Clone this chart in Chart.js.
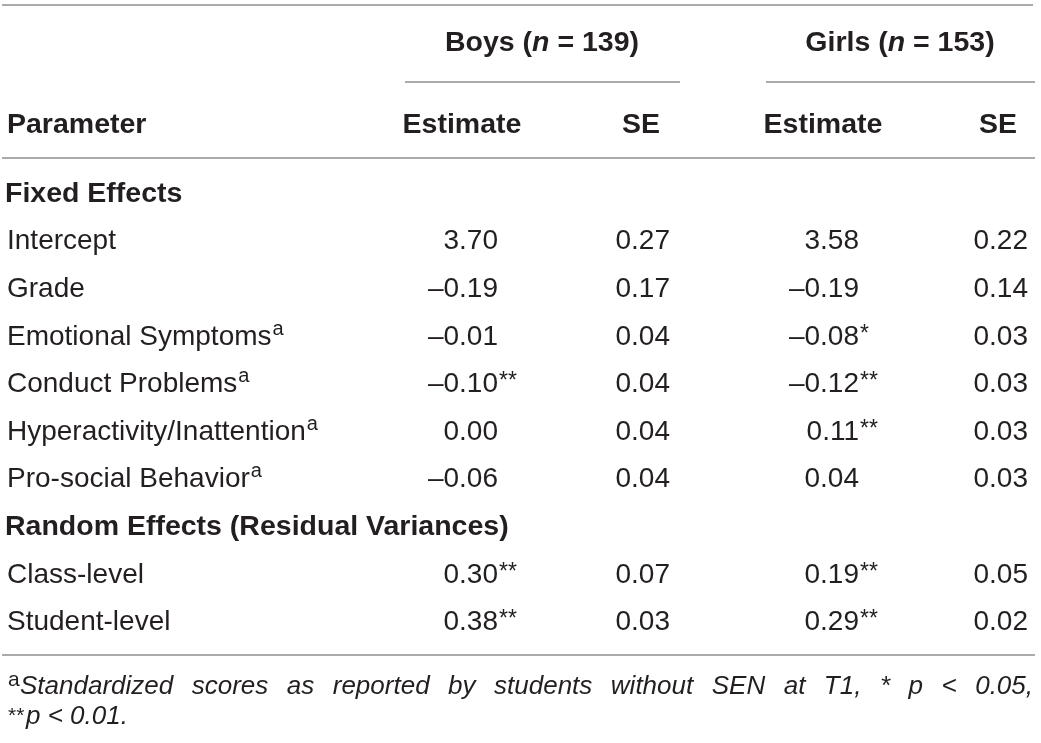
<!DOCTYPE html>
<html>
<head>
<meta charset="utf-8">
<script src="https://cdn.jsdelivr.net/npm/chart.js@4/dist/chart.umd.min.js"></script>
<style>
  body { margin: 0; background: #fff; }
  #wrap { width: 1041px; height: 743px; }
</style>
</head>
<body>
<div id="wrap"><canvas id="tbl" width="1041" height="743"></canvas></div>
<script>
// table rows (top to bottom)
const rowOrder = ['Fixed Effects', 'Intercept', 'Grade', 'Emotional Symptoms', 'Conduct Problems',
  'Hyperactivity/Inattention', 'Pro-social Behavior', 'Random Effects (Residual Variances)',
  'Class-level', 'Student-level'];
const sections = ['Fixed Effects', 'Random Effects (Residual Variances)'];
const paramNames = ['Intercept', 'Grade', 'Emotional Symptoms', 'Conduct Problems',
  'Hyperactivity/Inattention', 'Pro-social Behavior', 'Class-level', 'Student-level'];
const noteA = ['Emotional Symptoms', 'Conduct Problems', 'Hyperactivity/Inattention', 'Pro-social Behavior'];

const boysEst = [3.70, -0.19, -0.01, -0.10, 0.00, -0.06, 0.30, 0.38];
const boysEstSig = ['', '', '', '**', '', '', '**', '**'];
const boysSE = [0.27, 0.17, 0.04, 0.04, 0.04, 0.04, 0.07, 0.03];
const girlsEst = [3.58, -0.19, -0.08, -0.12, 0.11, 0.04, 0.19, 0.29];
const girlsEstSig = ['', '', '*', '**', '**', '', '**', '**'];
const girlsSE = [0.22, 0.14, 0.03, 0.03, 0.03, 0.03, 0.05, 0.02];

const groups = [{name: 'Boys', n: 139}, {name: 'Girls', n: 153}];
const footnote1 = 'Standardized scores as reported by students without SEN at T1, * p < 0.05,';
const footnote2 = 'p < 0.01.';

// layout (x in page units, 0..1041)
const FONT = '"Liberation Sans", Arial, sans-serif';
const INK = '#231f20';
const RULE = '#8f8f8f';
const colX = {section: 5, param: 7, bEst: 498, bSE: 670, gEst: 859, gSE: 1028};
const headX = {bEst: 462, bSE: 641, gEst: 823, gSE: 998, boys: 542, girls: 900};
const groupLines = [[405, 680], [766, 1035]];
const REG = '28px ' + FONT;
const BOLD = 'bold 28.5px ' + FONT;

function fmt(v) {
  return (v < 0 ? '\u2013' : '') + Math.abs(v).toFixed(2);
}

function cellSet(x, vals, sig, kind) {
  return {
    data: paramNames.map((p, i) => ({x: x, y: p})),
    texts: vals.map(fmt), sig: sig, kind: kind,
    pointRadius: 0, showLine: false
  };
}

const datasets = [
  {data: sections.map(s => ({x: colX.section, y: s})), texts: sections, kind: 'section', pointRadius: 0},
  {data: paramNames.map(p => ({x: colX.param, y: p})), texts: paramNames, kind: 'label', pointRadius: 0},
  cellSet(colX.bEst, boysEst, boysEstSig, 'num'),
  cellSet(colX.bSE, boysSE, null, 'num'),
  cellSet(colX.gEst, girlsEst, girlsEstSig, 'num'),
  cellSet(colX.gSE, girlsSE, null, 'num')
];

function hline(ctx, x0, x1, y) {
  ctx.save();
  ctx.strokeStyle = RULE;
  ctx.lineWidth = 1.5;
  ctx.beginPath();
  ctx.moveTo(x0, y);
  ctx.lineTo(x1, y);
  ctx.stroke();
  ctx.restore();
}

// draws the text segments [text, font] centred at cx
function centredRuns(ctx, runs, cx, y) {
  let w = 0;
  runs.forEach(r => { ctx.font = r[1]; w += ctx.measureText(r[0]).width; });
  let x = cx - w / 2;
  ctx.textAlign = 'left';
  runs.forEach(r => { ctx.font = r[1]; ctx.fillText(r[0], x, y); x += ctx.measureText(r[0]).width; });
}

const tablePlugin = {
  id: 'tablePlugin',
  afterDatasetsDraw(chart) {
    const ctx = chart.ctx;
    const xs = chart.scales.x;
    const area = chart.chartArea;
    const px = v => xs.getPixelForValue(v);
    const lift = 10;
    ctx.save();
    ctx.fillStyle = INK;
    ctx.textBaseline = 'alphabetic';

    // body cells
    chart.data.datasets.forEach((ds, di) => {
      const meta = chart.getDatasetMeta(di);
      meta.data.forEach((pt, i) => {
        const t = ds.texts[i];
        const y = pt.y + lift;
        if (ds.kind === 'section') {
          ctx.font = BOLD;
          ctx.textAlign = 'left';
          ctx.fillText(t, pt.x, y);
        } else if (ds.kind === 'label') {
          ctx.font = REG;
          ctx.textAlign = 'left';
          ctx.fillText(t, pt.x, y);
          if (noteA.includes(t)) {
            const w = ctx.measureText(t).width;
            ctx.font = '20px ' + FONT;
            ctx.fillText('a', pt.x + w + 1, y - 10);
          }
        } else {
          ctx.font = REG;
          ctx.textAlign = 'right';
          ctx.fillText(t, pt.x, y);
          if (ds.sig && ds.sig[i]) {
            ctx.font = '23px ' + FONT;
            ctx.textAlign = 'left';
            ctx.fillText(ds.sig[i], pt.x + 1, y - 4);
          }
        }
      });
    });

    // header
    const boldIt = 'italic ' + BOLD;
    const gy = area.top - 117;
    centredRuns(ctx, [[groups[0].name + ' (', BOLD], ['n', boldIt], [' = ' + groups[0].n + ')', BOLD]], px(headX.boys), gy);
    centredRuns(ctx, [[groups[1].name + ' (', BOLD], ['n', boldIt], [' = ' + groups[1].n + ')', BOLD]], px(headX.girls), gy);
    const sy = area.top - 35;
    ctx.font = BOLD;
    ctx.textAlign = 'left';
    ctx.fillText('Parameter', px(colX.param), sy);
    ctx.textAlign = 'center';
    ctx.fillText('Estimate', px(headX.bEst), sy);
    ctx.fillText('SE', px(headX.bSE), sy);
    ctx.fillText('Estimate', px(headX.gEst), sy);
    ctx.fillText('SE', px(headX.gSE), sy);

    // rules
    hline(ctx, px(2), px(1033), area.top - 163);
    groupLines.forEach(g => hline(ctx, px(g[0]), px(g[1]), area.top - 86));
    hline(ctx, px(2), px(1035), area.top - 10);
    hline(ctx, px(2), px(1035), area.bottom + 11);

    // footnote, first line justified
    const fy1 = area.bottom + 50, fy2 = area.bottom + 80;
    ctx.textAlign = 'left';
    ctx.font = '21px ' + FONT;
    ctx.fillText('a', px(8), fy1 - 8);
    const it = 'italic 26px ' + FONT;
    ctx.font = it;
    const words = footnote1.split(' ');
    const x0 = px(20), x1 = px(1033);
    let sum = 0;
    words.forEach(w => { sum += ctx.measureText(w).width; });
    const gap = (x1 - x0 - sum) / (words.length - 1);
    let x = x0;
    words.forEach(w => { ctx.fillText(w, x, fy1); x += ctx.measureText(w).width + gap; });
    ctx.font = '21px ' + FONT;
    ctx.fillText('**', px(8), fy2 - 2);
    ctx.font = it;
    ctx.fillText(footnote2, px(26), fy2);
    ctx.restore();
  }
};

new Chart(document.getElementById('tbl'), {
  type: 'scatter',
  data: {datasets: datasets},
  options: {
    responsive: false,
    animation: false,
    events: [],
    layout: {padding: {top: 168, bottom: 99, left: 0, right: 0}},
    scales: {
      x: {type: 'linear', min: 0, max: 1041, display: false},
      y: {type: 'category', labels: rowOrder, offset: true, display: false}
    },
    plugins: {legend: {display: false}, tooltip: {enabled: false}}
  },
  plugins: [tablePlugin]
});
</script>
</body>
</html>
